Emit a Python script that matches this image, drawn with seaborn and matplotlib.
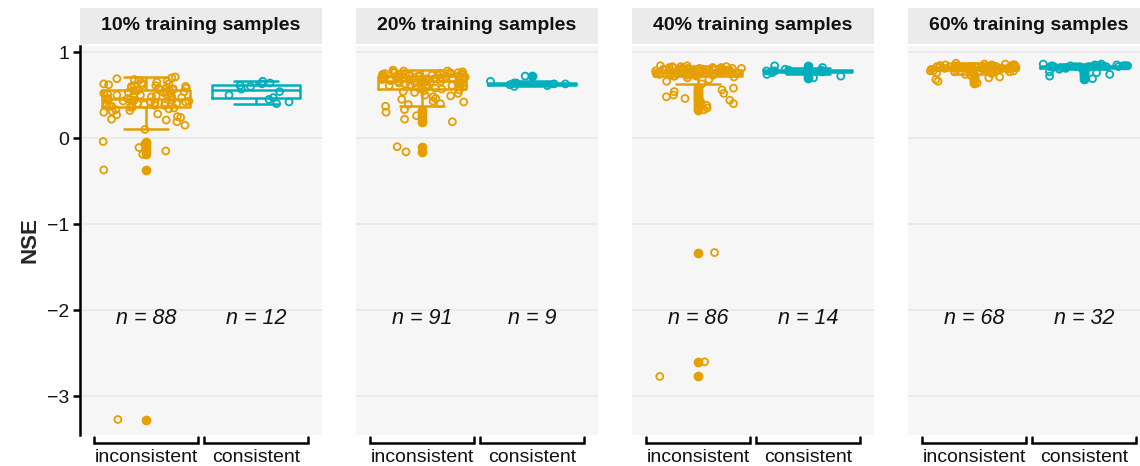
import numpy as np
import pandas as pd
import seaborn as sns
import matplotlib.pyplot as plt
import matplotlib.transforms as mtransforms

sns.set_theme(style="white")
plt.rcParams['font.family'] = ['Liberation Sans', 'DejaVu Sans']

# panel titles / groups
panel_titles = ["10% training samples", "20% training samples",
                "40% training samples", "60% training samples"]
groups = ["inconsistent", "consistent"]
colors = {"inconsistent": "#E69F00", "consistent": "#00AFBB"}

# NSE values
nse_10_incons = [-3.27, -0.37, -0.19, -0.15, -0.11, -0.07, -0.04,
                 0.10, 0.15, 0.19, 0.21, 0.22, 0.24, 0.25, 0.27, 0.28, 0.30, 0.31, 0.32, 0.33, 0.34, 0.35,
                 0.36, 0.36, 0.37, 0.37, 0.38, 0.38, 0.39, 0.39, 0.40, 0.40, 0.41, 0.41, 0.42, 0.42,
                 0.43, 0.43, 0.43, 0.44, 0.44, 0.44, 0.45, 0.45,
                 0.46, 0.46, 0.47, 0.47, 0.48, 0.48, 0.49, 0.49, 0.50, 0.50, 0.51, 0.51,
                 0.52, 0.52, 0.53, 0.53, 0.54, 0.54, 0.55, 0.55, 0.56, 0.56,
                 0.57, 0.57, 0.58, 0.58, 0.59, 0.59, 0.60, 0.60, 0.61, 0.61, 0.62, 0.62, 0.63, 0.63,
                 0.64, 0.65, 0.66, 0.67, 0.68, 0.69, 0.70, 0.71]
nse_10_cons = [0.40, 0.42, 0.45, 0.47, 0.50, 0.54, 0.57, 0.60, 0.61, 0.63, 0.64, 0.66]

nse_20_incons = [-0.16, -0.10, 0.19, 0.22, 0.26, 0.30, 0.33,
                 0.37, 0.39, 0.40, 0.42, 0.43, 0.45, 0.46, 0.48, 0.49, 0.50, 0.52, 0.53, 0.54, 0.55, 0.56, 0.57,
                 0.57, 0.58, 0.58, 0.59, 0.59, 0.60, 0.60, 0.61, 0.61, 0.62, 0.62, 0.63, 0.63, 0.63,
                 0.64, 0.64, 0.64, 0.65, 0.65, 0.65, 0.66, 0.66, 0.66,
                 0.67, 0.67, 0.67, 0.67, 0.68, 0.68, 0.68, 0.68, 0.69, 0.69, 0.69, 0.69,
                 0.70, 0.70, 0.70, 0.70, 0.71, 0.71, 0.71, 0.71, 0.71, 0.72,
                 0.72, 0.72, 0.72, 0.73, 0.73, 0.73, 0.73, 0.74, 0.74, 0.74, 0.74, 0.75, 0.75, 0.75, 0.75,
                 0.76, 0.76, 0.76, 0.77, 0.77, 0.78, 0.78, 0.79]
nse_20_cons = [0.60, 0.61, 0.62, 0.63, 0.63, 0.64, 0.64, 0.66, 0.72]

nse_40_incons = [-2.77, -2.60, -1.33, 0.33, 0.35, 0.38, 0.40, 0.42, 0.44, 0.46, 0.48, 0.50, 0.52, 0.54, 0.56, 0.58,
                 0.63, 0.66, 0.68, 0.70, 0.71, 0.72,
                 0.72, 0.72, 0.73, 0.73, 0.73, 0.73, 0.74, 0.74, 0.74, 0.74, 0.74,
                 0.75, 0.75, 0.75, 0.75, 0.75, 0.76, 0.76, 0.76, 0.76, 0.76,
                 0.76, 0.77, 0.77, 0.77, 0.77, 0.77, 0.77, 0.78, 0.78, 0.78, 0.78, 0.78, 0.78, 0.78,
                 0.79, 0.79, 0.79, 0.79, 0.79, 0.79, 0.79,
                 0.79, 0.79, 0.80, 0.80, 0.80, 0.80, 0.80, 0.80, 0.81, 0.81, 0.81, 0.81, 0.81,
                 0.82, 0.82, 0.82, 0.82, 0.83, 0.83, 0.83, 0.84, 0.84]
nse_40_cons = [0.70, 0.72, 0.74, 0.76, 0.77, 0.77, 0.78, 0.78, 0.78, 0.79, 0.79, 0.80, 0.82, 0.84]

nse_60_incons = [0.64, 0.66, 0.68, 0.70, 0.71, 0.73, 0.74,
                 0.75, 0.76, 0.77, 0.77, 0.78, 0.78, 0.78, 0.79, 0.79, 0.79,
                 0.79, 0.80, 0.80, 0.80, 0.80, 0.80, 0.80, 0.80, 0.80,
                 0.81, 0.81, 0.81, 0.81, 0.81, 0.81, 0.81, 0.81,
                 0.81, 0.81, 0.82, 0.82, 0.82, 0.82, 0.82, 0.82, 0.82, 0.82,
                 0.83, 0.83, 0.83, 0.83, 0.83, 0.83, 0.83,
                 0.83, 0.83, 0.83, 0.84, 0.84, 0.84, 0.84, 0.84, 0.84,
                 0.85, 0.85, 0.85, 0.85, 0.85, 0.86, 0.86, 0.87]
nse_60_cons = [0.69, 0.72, 0.74, 0.76, 0.77,
               0.80, 0.81, 0.81, 0.82, 0.82, 0.82, 0.82,
               0.83, 0.83, 0.83, 0.83, 0.83, 0.83, 0.83, 0.83,
               0.84, 0.84, 0.84, 0.84, 0.84, 0.84, 0.84, 0.84,
               0.85, 0.85, 0.86, 0.86]

incons_all = [nse_10_incons, nse_20_incons, nse_40_incons, nse_60_incons]
cons_all = [nse_10_cons, nse_20_cons, nse_40_cons, nse_60_cons]

frames = []
for title, inc, con in zip(panel_titles, incons_all, cons_all):
    frames.append(pd.DataFrame({"panel": title, "group": "inconsistent", "NSE": inc}))
    frames.append(pd.DataFrame({"panel": title, "group": "consistent", "NSE": con}))
df = pd.concat(frames, ignore_index=True)

W, H = 1140, 466
fig = plt.figure(figsize=(W / 100, H / 100), dpi=100)


def px_rect(left, top, width, height):
    return [left / W, 1 - (top + height) / H, width / W, height / H]


panel_top, panel_bottom = 46, 435
panel_w = 242
lefts = [80, 356, 632, 908]

np.random.seed(11)
for i, title in enumerate(panel_titles):
    ax = fig.add_axes(px_rect(lefts[i], panel_top, panel_w, panel_bottom - panel_top))
    sub = df[df["panel"] == title]

    for g in groups:
        sns.boxplot(data=sub[sub["group"] == g], x="group", y="NSE", order=groups,
                    color=colors[g], fill=False, width=0.8, linewidth=1.8,
                    flierprops=dict(marker="o", markerfacecolor=colors[g],
                                    markeredgecolor=colors[g], markersize=6),
                    ax=ax)

    n0 = len(ax.collections)
    sns.stripplot(data=sub, x="group", y="NSE", hue="group", order=groups, hue_order=groups,
                  palette=colors, jitter=0.4, size=5, legend=False, ax=ax)
    # open circles for the jittered points
    for coll in ax.collections[n0:]:
        fc = coll.get_facecolor()
        coll.set_facecolor("none")
        coll.set_edgecolor(fc)
        coll.set_linewidth(1.3)

    ax.set_xlim(-0.6, 1.6)
    ax.set_ylim(-3.45, 1.07)
    ax.set_facecolor("#F6F6F6")
    ax.set_yticks([-3, -2, -1, 0, 1])
    ax.yaxis.grid(True, color="#E9E9E9", linewidth=1.3)
    ax.xaxis.grid(False)
    ax.set_axisbelow(True)
    ax.set_xlabel("")
    ax.set_ylabel("")
    for s in ax.spines.values():
        s.set_visible(False)

    ax.set_xticks([0, 1])
    ax.set_xticklabels(groups, fontsize=14, color="#111111")
    ax.tick_params(axis="x", length=0, pad=10)

    if i == 0:
        ax.spines["left"].set_visible(True)
        ax.spines["left"].set_color("black")
        ax.spines["left"].set_linewidth(1.8)
        ax.tick_params(axis="y", left=True, length=5, width=1.8, labelsize=14,
                       color="black", labelcolor="#111111", pad=3)
    else:
        ax.tick_params(axis="y", left=False, labelleft=False)

    # bracket-style x axis under each group
    trans = mtransforms.blended_transform_factory(ax.transData, ax.transAxes)
    hgt = panel_bottom - panel_top
    for xc in [0, 1]:
        ax.plot([xc - 0.47, xc - 0.47, xc + 0.47, xc + 0.47],
                [-2 / hgt, -8 / hgt, -8 / hgt, -2 / hgt],
                color="black", linewidth=1.8, transform=trans, clip_on=False,
                solid_joinstyle="miter")

    # sample counts
    for xc, vals in zip([0, 1], [incons_all[i], cons_all[i]]):
        ax.text(xc, -2.1, f"n = {len(vals)}", ha="center", va="center",
                fontsize=15.5, style="italic", color="#111111")

    # strip header
    sax = fig.add_axes(px_rect(lefts[i], 8, panel_w, 36))
    sax.set_facecolor("#EBEBEB")
    sax.set_xticks([])
    sax.set_yticks([])
    for s in sax.spines.values():
        s.set_visible(False)
    sax.text(0.5, 0.5, title, ha="center", va="center", fontsize=14,
             fontweight="bold", color="#111111", transform=sax.transAxes)

fig.text(30 / W, 1 - 240 / H, "NSE", rotation=90, ha="center", va="center",
         fontsize=16, fontweight="bold")

fig.savefig("out.png", dpi=100)
